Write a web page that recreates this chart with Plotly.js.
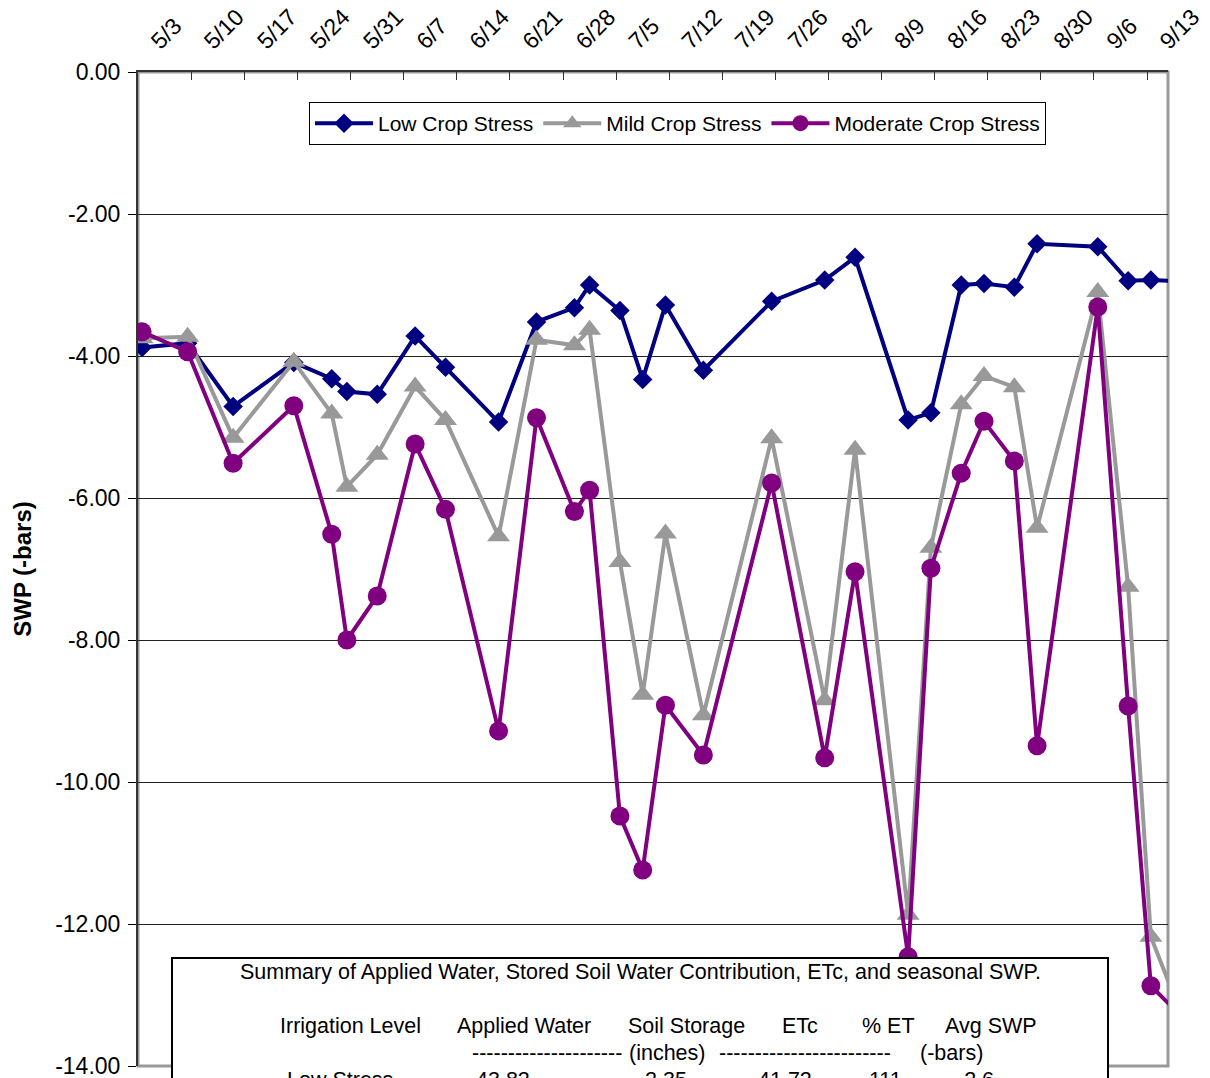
<!DOCTYPE html>
<html>
<head>
<meta charset="utf-8">
<script src="https://cdn.plot.ly/plotly-3.0.1.min.js"></script>
<style>html,body{margin:0;padding:0;background:#fff;}#chart{width:1210px;height:1078px;}</style>
</head>
<body>
<div id="chart"></div>
<script>
// ---- data ----
const dates = ['2006-05-03','2006-05-09','2006-05-15','2006-05-23','2006-05-28','2006-05-30','2006-06-03','2006-06-08','2006-06-12','2006-06-19','2006-06-24','2006-06-29','2006-07-01','2006-07-05','2006-07-08','2006-07-11','2006-07-16','2006-07-25','2006-08-01','2006-08-05','2006-08-12','2006-08-15','2006-08-19','2006-08-22','2006-08-26','2006-08-29','2006-09-06','2006-09-10','2006-09-13','2006-09-17'];
const lowStress = [-3.88,-3.82,-4.71,-4.09,-4.32,-4.50,-4.54,-3.72,-4.16,-4.93,-3.52,-3.32,-3.00,-3.36,-4.33,-3.28,-4.20,-3.23,-2.93,-2.61,-4.90,-4.80,-3.00,-2.98,-3.03,-2.42,-2.46,-2.94,-2.93,-2.95];
const mildStress = [-3.75,-3.73,-5.15,-4.08,-4.81,-5.84,-5.39,-4.43,-4.90,-6.54,-3.77,-3.85,-3.63,-6.90,-8.77,-6.50,-9.06,-5.16,-8.85,-5.32,-11.87,-6.70,-4.68,-4.28,-4.44,-6.42,-3.10,-7.25,-12.18,-13.27];
const moderateStress = [-3.66,-3.94,-5.51,-4.70,-6.51,-8.00,-7.38,-5.24,-6.16,-9.28,-4.87,-6.19,-5.89,-10.48,-11.24,-8.92,-9.62,-5.79,-9.66,-7.04,-12.46,-6.99,-5.65,-4.92,-5.48,-9.49,-3.31,-8.93,-12.87,-13.30];
const seriesNames = ['Low Crop Stress','Mild Crop Stress','Moderate Crop Stress'];
const tickDates = ['2006-05-03','2006-05-10','2006-05-17','2006-05-24','2006-05-31','2006-06-07','2006-06-14','2006-06-21','2006-06-28','2006-07-05','2006-07-12','2006-07-19','2006-07-26','2006-08-02','2006-08-09','2006-08-16','2006-08-23','2006-08-30','2006-09-06','2006-09-13'];
const tickLabels = ['5/3','5/10','5/17','5/24','5/31','6/7','6/14','6/21','6/28','7/5','7/12','7/19','7/26','8/2','8/9','8/16','8/23','8/30','9/6','9/13'];
const yTickVals = [0, -2, -4, -6, -8, -10, -12, -14];
const yTickLabels = ['0.00', '-2.00', '-4.00', '-6.00', '-8.00', '-10.00', '-12.00', '-14.00'];
const tableTitle = 'Summary of Applied Water, Stored Soil Water Contribution, ETc, and seasonal SWP.';
const tableHeader = ['Irrigation Level','Applied Water','Soil Storage','ETc','% ET','Avg SWP'];
const tableUnits = ['---------------------','(inches)','------------------------','(-bars)'];
const tableRow1 = ['Low Stress','43.82','2.35','41.72','111','-2.6'];

// ---- helpers ----
const FONT = 'Liberation Sans, Arial, sans-serif';
// tick marks sit at the start of each labelled day's slot (half a day before the point)
const tickVals = tickDates.map(d => {
  const t = new Date(d + 'T00:00:00Z').getTime() - 12 * 3600 * 1000;
  return new Date(t).toISOString().replace('T', ' ').slice(0, 19);
});

const traces = [
  {x: dates, y: lowStress, name: seriesNames[0], type: 'scatter', mode: 'lines+markers',
   line: {color: '#000080', width: 4}, marker: {symbol: 'diamond', size: 15, color: '#000080'}},
  {x: dates, y: mildStress, name: seriesNames[1], type: 'scatter', mode: 'lines+markers',
   line: {color: '#999999', width: 4}, marker: {symbol: 'triangle-up', size: 20, color: '#999999'}},
  {x: dates, y: moderateStress, name: seriesNames[2], type: 'scatter', mode: 'lines+markers',
   line: {color: '#800080', width: 4}, marker: {symbol: 'circle', size: 19, color: '#800080'}}
];

function px2x(px) { return (px - 138) / 1030; }
function py2y(py) { return (1066 - py) / 994; }

const annotations = [];
function addText(text, cx, cy) {
  annotations.push({text: text, xref: 'paper', yref: 'paper', x: px2x(cx), y: py2y(cy),
    xanchor: 'center', yanchor: 'middle', showarrow: false,
    font: {family: FONT, size: 21.5, color: '#000'}});
}
addText(tableTitle, 640, 972);
const headerX = [350, 524, 686, 800, 888, 991];
tableHeader.forEach((t, i) => addText(t, headerX[i], 1026));
const unitsX = [547, 667, 805, 951];
tableUnits.forEach((t, i) => addText(t, unitsX[i], 1053));
const rowX = [340, 503, 666, 785, 885, 975];
tableRow1.forEach((t, i) => addText(t, rowX[i], 1080));

const layout = {
  width: 1210, height: 1078,
  margin: {l: 138, r: 42, t: 72, b: 12},
  paper_bgcolor: '#fff', plot_bgcolor: '#fff',
  font: {family: FONT, size: 20, color: '#000'},
  showlegend: true,
  legend: {orientation: 'h', x: px2x(309), xanchor: 'left', y: py2y(102), yanchor: 'top',
    bgcolor: '#fff', bordercolor: '#000', borderwidth: 1,
    font: {family: FONT, size: 21, color: '#000'}, itemwidth: 58, tracegroupgap: 0},
  xaxis: {
    type: 'date', side: 'top',
    range: ['2006-05-02 11:00', '2006-09-15 06:15'],
    tickmode: 'array', tickvals: tickVals, ticktext: tickLabels,
    tickangle: -45, ticks: 'inside', ticklen: 8, tickcolor: '#333', tickwidth: 1,
    showgrid: false, zeroline: false, showline: true, linecolor: '#333', linewidth: 2,
    tickfont: {family: FONT, size: 23, color: '#000'}, ticklabelshift: 14, ticklabelstandoff: 7,
    ticklabeloverflow: 'allow', fixedrange: true
  },
  yaxis: {
    range: [-14, 0], tickmode: 'array', tickvals: yTickVals, ticktext: yTickLabels,
    ticks: 'outside', ticklen: 8, tickcolor: '#000', tickwidth: 1,
    showgrid: true, gridcolor: '#222', gridwidth: 1, zeroline: false,
    showline: true, linecolor: '#333', linewidth: 2, ticklabelstandoff: 3,
    tickfont: {family: FONT, size: 23, color: '#000'}, ticklabeloverflow: 'allow',
    title: {text: 'SWP (-bars)', standoff: 17, font: {family: FONT, size: 24, color: '#000', weight: 'bold'}},
    fixedrange: true
  },
  shapes: [
    {type: 'rect', xref: 'paper', yref: 'paper', x0: 0, x1: 1, y0: 0, y1: 1,
     line: {color: '#999999', width: 3}, fillcolor: 'rgba(0,0,0,0)', layer: 'below'},
    {type: 'rect', xref: 'paper', yref: 'paper', x0: px2x(172), x1: px2x(1108), y0: py2y(1100), y1: py2y(958),
     line: {color: '#000', width: 2}, fillcolor: '#fff', layer: 'above'}
  ],
  annotations: annotations
};

Plotly.newPlot('chart', traces, layout, {displayModeBar: false, staticPlot: true});
</script>
</body>
</html>
